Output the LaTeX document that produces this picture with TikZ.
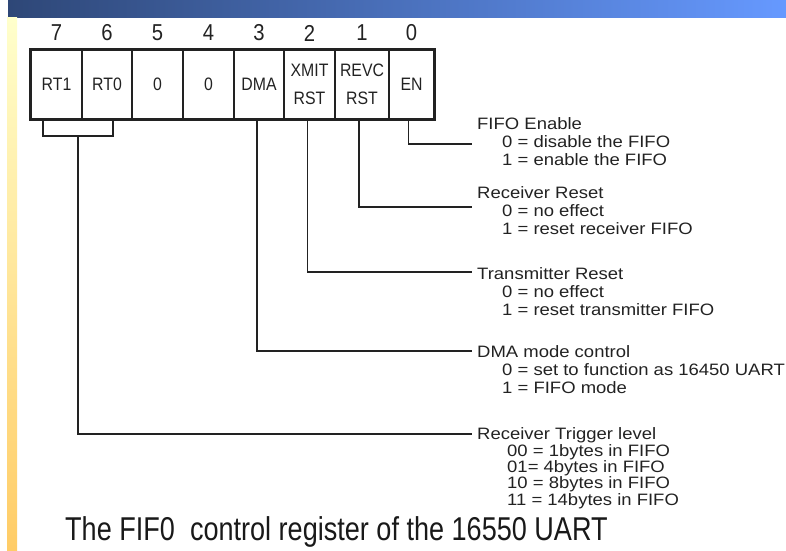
\documentclass[tikz,border=0pt]{standalone}
\usepackage{fontspec}
\setmainfont{Liberation Sans}
\newfontfamily\cellfont[FakeStretch=0.88]{Liberation Sans}
\newfontfamily\notefont[FakeStretch=1.12]{Liberation Sans}
\newfontfamily\capfont[FakeStretch=0.82]{Liberation Sans}

\definecolor{barleft}{HTML}{2E4777}
\definecolor{barright}{HTML}{6699FF}
\definecolor{stripetop}{HTML}{FFFFCC}
\definecolor{stripebot}{HTML}{FFCC66}
\definecolor{ink}{HTML}{222222}

\begin{document}
\begin{tikzpicture}[x=1pt, y=-1pt,
  cell/.style={draw=ink, line width=1.4pt, minimum height=69pt, inner sep=0pt, align=center, text=ink, font=\cellfont\fontsize{18}{28}\selectfont},
  bitnum/.style={inner sep=0pt, text=ink, font=\cellfont\fontsize{23}{23}\selectfont},
  note/.style={anchor=base west, align=left, inner sep=0pt, text=ink, font=\notefont\fontsize{16.5}{17.8}\selectfont},
  wire/.style={draw=ink, line width=1.3pt}]
  \useasboundingbox (0,0) rectangle (786,550);
  % title bar and side stripe
  \shade[left color=barleft, right color=barright] (8,0) rectangle (786,17);
  \shade[top color=stripetop, bottom color=stripebot] (7,17) rectangle (17,550);

  % register cells, bit 7 on the left
  \foreach \nm/\cx/\w/\bit/\txt in {b7/56.5/51/7/RT1, b6/107/50/6/RT0, b5/157.5/51/5/0, b4/208.5/51/4/0,
      b3/259/50/3/DMA, b2/309.5/51/2/XMIT\\RST, b1/362/54/1/REVC\\RST, b0/411.5/45/0/EN}
  {
    \node[cell, minimum width=\w pt] (\nm) at (\cx,84.5) {\txt};
    \node[bitnum] (n\nm) at (\cx,33) {\bit};
  }
  \draw[ink, line width=2.2pt] (b7.north west) rectangle (b0.south east);

  % descriptions (placed by the baseline of their last line)
  \node[note] (en-note) at (477,165.5) {FIFO Enable\\\hspace*{25pt}0 = disable the FIFO\\\hspace*{25pt}1 = enable the FIFO};
  \node[note] (rx-note) at (477,234) {Receiver Reset\\\hspace*{25pt}0 = no effect\\\hspace*{25pt}1 = reset receiver FIFO};
  \node[note] (tx-note) at (477,315) {Transmitter Reset\\\hspace*{25pt}0 = no effect\\\hspace*{25pt}1 = reset transmitter FIFO};
  \node[note] (dma-note) at (477,393) {DMA mode control\\\hspace*{25pt}0 = set to function as 16450 UART\\\hspace*{25pt}1 = FIFO mode};
  \node[note, font=\notefont\fontsize{16.5}{16.3}\selectfont] (trig-note) at (477,505)
    {Receiver Trigger level\\\hspace*{30pt}00 = 1bytes in FIFO\\\hspace*{30pt}01= 4bytes in FIFO\\\hspace*{30pt}10 = 8bytes in FIFO\\\hspace*{30pt}11 = 14bytes in FIFO};

  % line ends
  \coordinate (en-end) at (472,144);
  \coordinate (rx-end) at (472,207);
  \coordinate (tx-end) at (472,272);
  \coordinate (dma-end) at (472,351);
  \coordinate (trig-end) at (472,434);
  \coordinate (rt) at (78,136);

  \draw[wire] ([xshift=-3pt]b0.south) |- (en-end);
  \draw[wire] ([xshift=-3pt]b1.south) |- (rx-end);
  \draw[wire] ([xshift=-2pt]b2.south) |- (tx-end);
  \draw[wire] ([xshift=-2pt]b3.south) |- (dma-end);
  \draw[wire] (43,119) |- (113,136) -- (113,119);
  \draw[wire] (rt) |- (trig-end);

  \node[anchor=base west, inner sep=0pt, text=black!90, font=\capfont\fontsize{33}{33}\selectfont] (caption) at (65,540)
    {The FIF0\ \ control register of the 16550 UART};
\end{tikzpicture}
\end{document}
